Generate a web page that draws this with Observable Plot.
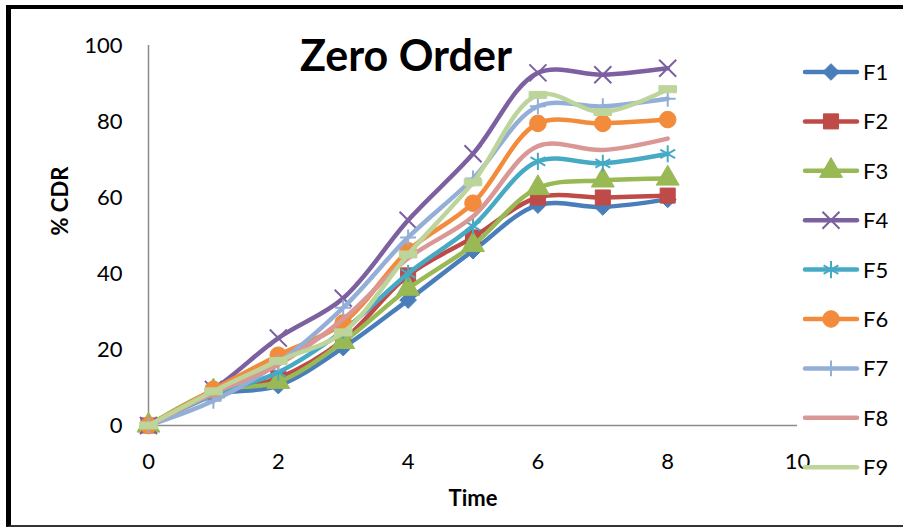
<!DOCTYPE html>
<html><head><meta charset="utf-8">
<script src="https://cdn.jsdelivr.net/npm/d3@7"></script>
<script src="https://cdn.jsdelivr.net/npm/@observablehq/plot@0.6"></script>
<style>
html,body{margin:0;padding:0;background:#fff;overflow:hidden}
#wrap{position:relative;width:903px;height:528px;overflow:hidden;font-family:Lato,sans-serif;background:#fff}
#border{position:absolute;left:6px;top:5px;width:1000px;height:522px;box-sizing:border-box;border-left:5px solid #000;border-top:4px solid #000;border-bottom:2px solid #333;pointer-events:none}
</style></head>
<body><div id="wrap"><div id="border"></div></div>
<script>
// ---- data ----
const time = [0, 1, 2, 3, 4, 5, 6, 7, 8];
const seriesNames = ["F1", "F2", "F3", "F4", "F5", "F6", "F7", "F8", "F9"];
const F1 = [0, 8, 10.5, 20.5, 33, 46, 58, 57.5, 59.5];
const F2 = [0, 8.5, 12.5, 22.5, 39.5, 49.5, 60, 60, 60.5];
const F3 = [0, 9, 11.5, 22, 36, 47.5, 62.5, 64.5, 65];
const F4 = [0, 9.5, 23, 33.5, 54, 71.5, 92.8, 92.3, 94];
const F5 = [0, 8, 14, 25, 40, 52.5, 69.5, 69, 71.5];
const F6 = [0, 9.5, 18.5, 27, 46, 58.5, 79.5, 79.5, 80.5];
const F7 = [0, 6.5, 16.5, 31, 49.5, 65, 84, 84, 86];
const F8 = [0, 8.5, 16, 28, 44, 55, 73.5, 72.5, 75.5];
const F9 = [0, 9, 17, 24.5, 45, 64, 87, 82.5, 88.5];
const seriesValues = [F1, F2, F3, F4, F5, F6, F7, F8, F9];
const xTicks = [0, 2, 4, 6, 8, 10];
const yTicks = [0, 20, 40, 60, 80, 100];
const titleText = ["Zero Order"];
const xLabel = ["Time"];
const yLabel = ["% CDR"];

// ---- styles ----
const colors = ["#4A7EBB", "#BE4B48", "#98B954", "#7D60A0", "#46AAC5", "#F38B3C", "#93AFD8", "#D99795", "#BDD49A"];
const dashSym = {draw(ctx, size) { const w = Math.sqrt(size); ctx.rect(-w * 0.55, -w * 0.22, w * 1.1, w * 0.44); }};
const markers = [
  {symbol: "diamond2", r: 7.5, filled: true},
  {symbol: "square", r: 8.5, filled: true},
  {symbol: "triangle", r: 8.5, filled: true},
  {symbol: "times", r: 7.8, filled: false},
  {symbol: "asterisk", r: 8.1, filled: false},
  {symbol: "circle", r: 8.3, filled: true},
  {symbol: "plus", r: 5.2, filled: false},
  null,
  {symbol: dashSym, r: 9, filled: true}
];

const marks = [
  Plot.ruleX([0], {y1: 0, y2: 100, stroke: "#8a8a8a", strokeWidth: 1.5}),
  Plot.ruleY([0], {x1: 0, x2: 10, stroke: "#8a8a8a", strokeWidth: 1.5}),
  Plot.axisY({ticks: yTicks, tickSize: 0, tickPadding: 26, label: null, fontSize: 22}),
  Plot.axisX({ticks: xTicks, tickSize: 0, tickPadding: 28, label: null, fontSize: 22})
];
seriesNames.forEach((name, i) => {
  const rows = time.map((t, j) => ({t, v: seriesValues[i][j]}));
  marks.push(Plot.line(rows, {x: "t", y: "v", curve: "catmull-rom", stroke: colors[i], strokeWidth: 4.5, strokeLinecap: "round", strokeLinejoin: "round"}));
  const m = markers[i];
  if (m) {
    marks.push(Plot.dot(rows, {x: "t", y: "v", symbol: m.symbol, r: m.r,
      fill: m.filled ? colors[i] : "none", stroke: colors[i], strokeWidth: m.filled ? 1 : 2}));
  }
});
marks.push(
  Plot.text(titleText, {text: d => d, frameAnchor: "top", dx: -67, dy: 25, lineAnchor: "bottom", fontSize: 43, fontWeight: "bold", fill: "#000"}),
  Plot.text(yLabel, {text: d => d, frameAnchor: "left", dx: -88, rotate: -90, fontSize: 22, fontWeight: "bold", fill: "#000"}),
  Plot.text(xLabel, {text: d => d, frameAnchor: "bottom", dy: 80, fontSize: 22, fontWeight: "bold", fill: "#000"})
);

const chart = Plot.plot({
  width: 903, height: 528,
  marginTop: 45, marginRight: 106, marginBottom: 103, marginLeft: 148,
  x: {domain: [0, 10]},
  y: {domain: [0, 100]},
  style: {fontFamily: "Lato, sans-serif", fontSize: "22px", color: "#000", background: "transparent"},
  marks
});
const wrap = document.getElementById("wrap");
wrap.insertBefore(chart, wrap.firstChild);

// ---- legend ----
const leg = d3.select("#wrap").append("svg")
  .style("position", "absolute").style("left", "795px").style("top", "40px")
  .attr("width", 108).attr("height", 460);
const symMap = {diamond2: d3.symbolDiamond2, square: d3.symbolSquare, triangle: d3.symbolTriangle, times: d3.symbolTimes, asterisk: d3.symbolAsterisk, circle: d3.symbolCircle, plus: d3.symbolPlus};
seriesNames.forEach((name, i) => {
  const y = 32 + i * 49.4;
  const g = leg.append("g").attr("transform", `translate(0,${y})`);
  g.append("line").attr("x1", 10).attr("x2", 62).attr("y1", 0).attr("y2", 0)
    .attr("stroke", colors[i]).attr("stroke-width", 4.5).attr("stroke-linecap", "round");
  const m = markers[i];
  if (m && i !== 8) {
    const type = typeof m.symbol === "string" ? symMap[m.symbol] : m.symbol;
    g.append("path").attr("transform", "translate(36,0)")
      .attr("d", d3.symbol(type, Math.PI * m.r * m.r)())
      .attr("fill", m.filled ? colors[i] : "none").attr("stroke", colors[i]).attr("stroke-width", m.filled ? 1 : 2);
  }
  g.append("text").attr("x", 68).attr("y", 0).attr("dy", "0.36em")
    .attr("font-family", "Lato, sans-serif").attr("font-size", 22).attr("fill", "#000").text(name);
});
</script>
</body></html>
